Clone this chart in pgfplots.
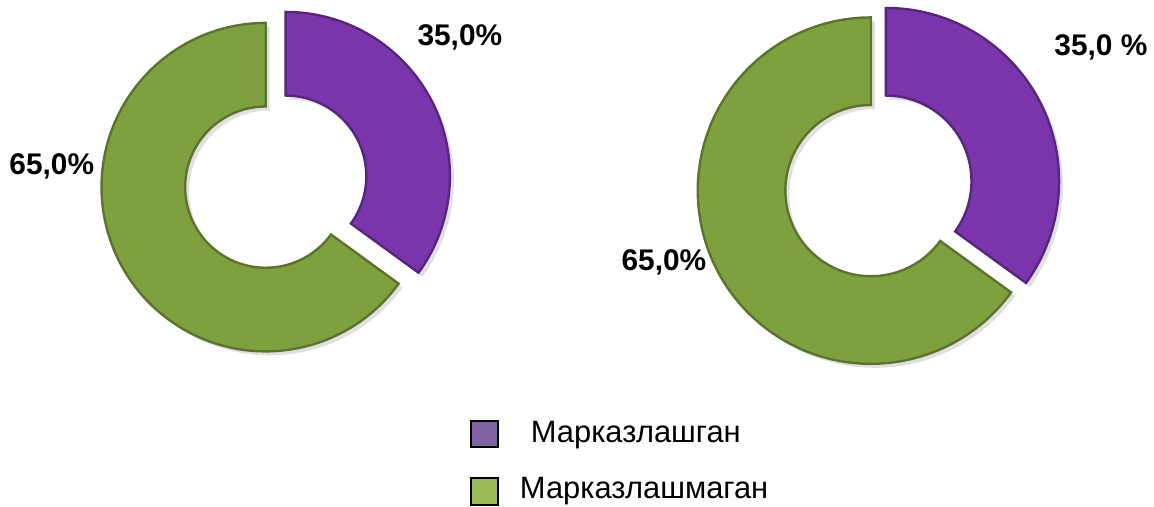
\documentclass[border=0pt]{standalone}
\usepackage{pgfplots}
\pgfplotsset{compat=1.18}
\usepackage{fontspec}
\setmainfont{Liberation Sans}
\usetikzlibrary{calc}

\definecolor{purp}{RGB}{122,52,172}
\definecolor{grn}{RGB}{127,160,62}
\definecolor{legpurp}{HTML}{8064A2}
\definecolor{leggrn}{HTML}{9BBB59}

% shares in percent (Марказлашган / Марказлашмаган)
\def\lefta{35.0}  \def\leftb{65.0}
\def\righta{35.0} \def\rightb{65.0}

\pgfmathsetmacro\la{90-3.6*\lefta}
\pgfmathsetmacro\lb{\la-3.6*\leftb}
\pgfmathsetmacro\ra{90-3.6*\righta}
\pgfmathsetmacro\rb{\ra-3.6*\rightb}

% cx, cy, R, r (in px), start angle, end angle, colour
\newcommand{\slice}[7]{%
  \fill[black!12] ($(axis cs:#1,#2)+(2pt,-2pt)+(#5:#3*0.5pt)$) arc[start angle=#5, end angle=#6, radius=#3*0.5pt]
    -- ($(axis cs:#1,#2)+(2pt,-2pt)+(#6:#4*0.5pt)$) arc[start angle=#6, end angle=#5, radius=#4*0.5pt] -- cycle;
  \fill[#7, draw=#7!72!black, line width=1.2pt]
    ($(axis cs:#1,#2)+(#5:#3*0.5pt)$) arc[start angle=#5, end angle=#6, radius=#3*0.5pt]
    -- ($(axis cs:#1,#2)+(#6:#4*0.5pt)$) arc[start angle=#6, end angle=#5, radius=#4*0.5pt] -- cycle;
}

\begin{document}
\begin{tikzpicture}
\begin{axis}[
    x=0.5pt, y=0.5pt,
    xmin=0, xmax=1154, ymin=0, ymax=508,
    hide axis, clip=false,
  ]
  \path (axis cs:0,0) rectangle (axis cs:1154,508);

  % left donut
  \slice{287}{331}{165}{81}{90}{\la}{purp}
  \slice{267}{320}{165}{81}{\la}{\lb}{grn}
  % right donut
  \slice{890}{326}{174}{86}{90}{\ra}{purp}
  \slice{875}{316.5}{174}{86}{\ra}{\rb}{grn}

  \node[font=\bfseries\fontsize{15}{18}\selectfont] at (axis cs:462,470) {35,0\%};
  \node[font=\bfseries\fontsize{15}{18}\selectfont] at (axis cs:52,341) {65,0\%};
  \node[font=\bfseries\fontsize{15}{18}\selectfont] at (axis cs:1106,460) {35,0 \%};
  \node[font=\bfseries\fontsize{15}{18}\selectfont] at (axis cs:667,244) {65,0\%};

  % legend
  \node[draw=black, line width=1pt, fill=legpurp, minimum size=13.5pt, inner sep=0pt] at (axis cs:487,72) {};
  \node[draw=black, line width=1pt, fill=leggrn, minimum size=13.5pt, inner sep=0pt] at (axis cs:487,14) {};
  \node[anchor=west, inner sep=0pt, font=\fontsize{15.5}{18}\selectfont] at (axis cs:533,71) {Марказлашган};
  \node[anchor=west, inner sep=0pt, font=\fontsize{15.5}{18}\selectfont] at (axis cs:522,15) {Марказлашмаган};
\end{axis}
\end{tikzpicture}
\end{document}
